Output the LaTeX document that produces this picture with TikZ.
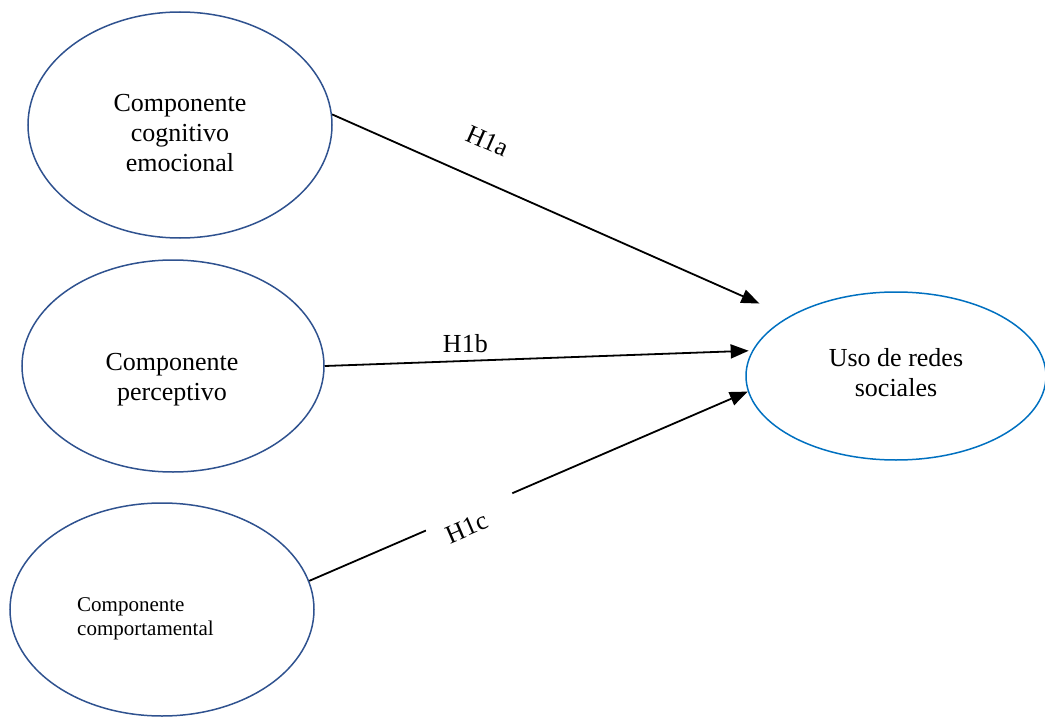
\documentclass[tikz,border=0pt]{standalone}
\usepackage{fontspec}
\setmainfont{Liberation Serif}
\usetikzlibrary{shapes.geometric,arrows.meta}
\definecolor{ellblue}{HTML}{2F528F}
\definecolor{usoblue}{HTML}{0070C0}
\begin{document}
\begin{tikzpicture}[x=1pt,y=-1pt,
  ell/.style={ellipse, draw=ellblue, line width=1.5pt, inner sep=0pt},
  txt/.style={font=\fontsize{26}{30}\selectfont, align=center, inner sep=0pt},
  smalltxt/.style={font=\fontsize{21}{24}\selectfont, align=left, inner sep=0pt},
  lbl/.style={font=\fontsize{26}{30}\selectfont, inner sep=0pt},
  arr/.style={line width=1.8pt, -{Triangle[length=18pt,width=14pt]}},
  ln/.style={line width=1.8pt}]
\useasboundingbox (0,0) rectangle (1045,717);
\node[ell, minimum width=304pt, minimum height=226pt] (e1) at (180,125) {};
\node[ell, minimum width=302pt, minimum height=212pt] (e2) at (173,366) {};
\node[ell, minimum width=304pt, minimum height=213pt] (e3) at (162,609.5) {};
\node[ell, draw=usoblue, minimum width=300pt, minimum height=168pt] (e4) at (896,376) {};
\node[txt] (t1) at (180,133) {Componente\\cognitivo\\emocional};
\node[txt] (t2) at (172,380) {Componente\\perceptivo};
\node[smalltxt, anchor=west] (t3) at (77,619) {Componente\\comportamental};
\node[txt] (t4) at (896,373) {Uso de redes\\sociales};
\draw[arr, shorten >=32pt] (e1.4) -- (e4.151) node[lbl, sloped, pos=0.307, above=29pt] (l1) {H1a};
\draw[arr, shorten >=3.5pt] (e2.east) -- (e4.170) node[lbl, pos=0.329, above=7pt] (l2) {H1b};
\path (e3.11) -- (e4.186) coordinate[pos=0.266] (g1) coordinate[pos=0.463] (g2) node[lbl, sloped, pos=0.347, below=5pt] (l3) {H1c};
\draw[ln] (e3.11) -- (g1);
\draw[arr] (g2) -- (e4.186);
\end{tikzpicture}
\end{document}
